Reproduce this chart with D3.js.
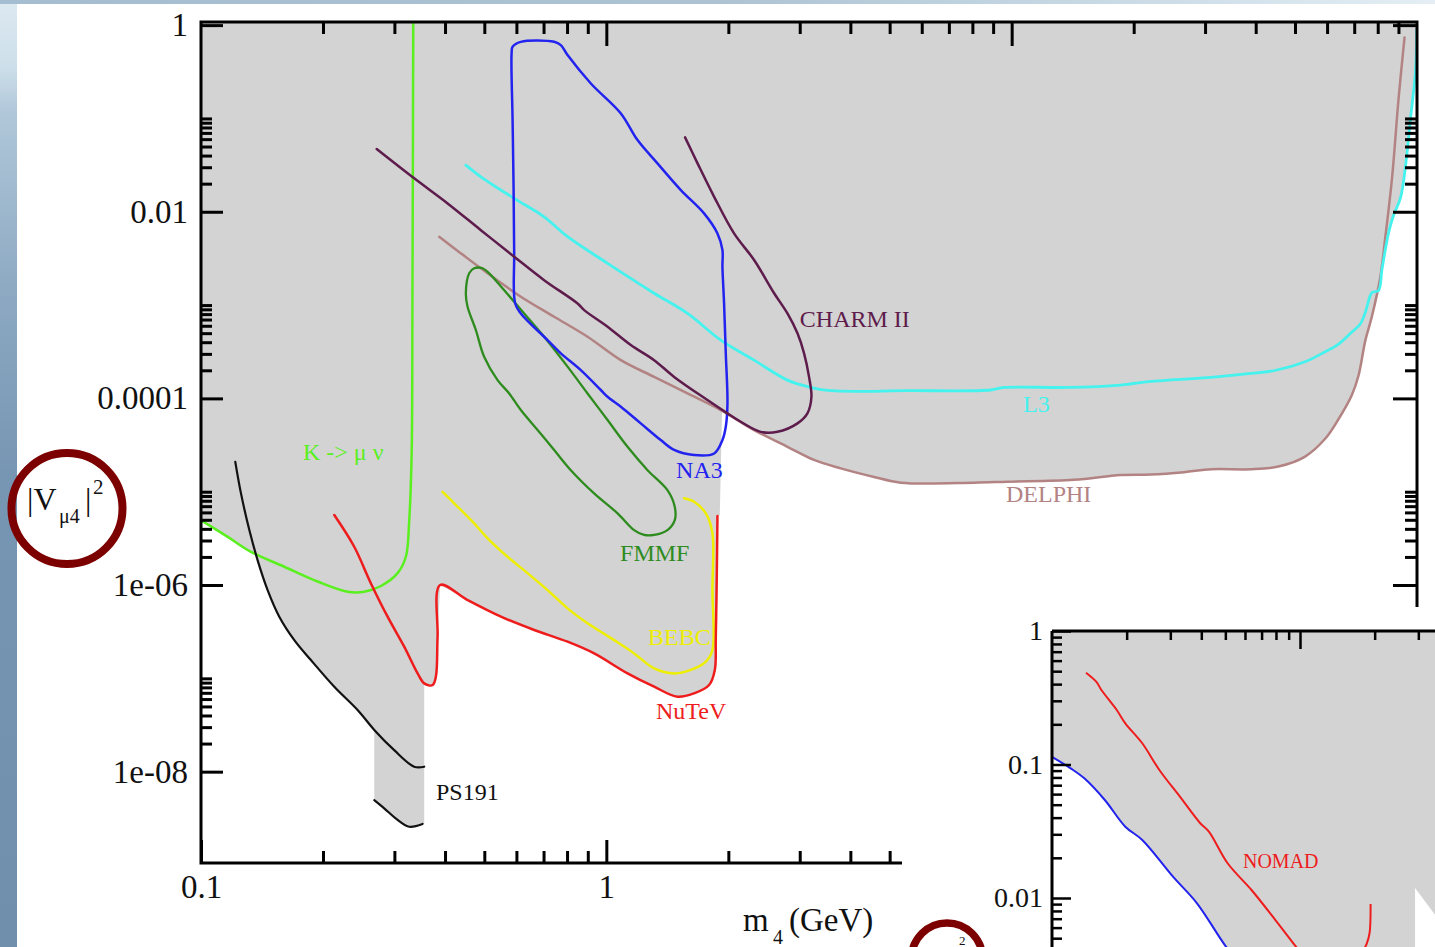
<!DOCTYPE html>
<html>
<head>
<meta charset="utf-8">
<title>Bounds on |V_mu4|^2 versus m4</title>
<script src="https://cdn.jsdelivr.net/npm/d3@7/dist/d3.min.js"></script>
<style>
  html, body { margin: 0; padding: 0; background: #ffffff; overflow: hidden; }
  svg { display: block; }
</style>
</head>
<body>
<svg id="chart" width="1435" height="947"></svg>
<script>
// ---------- Main panel: [m4 (GeV), |V_mu4|^2] ----------
const kMuNu = [[0.1,4.95e-6],[0.1164,3.28e-6],[0.1328,2.27e-6],[0.1605,1.57e-6],[0.194,1.09e-6],[0.23,8.48e-7],
  [0.2528,8.48e-7],[0.2779,9.76e-7],[0.3055,1.34e-6],[0.3202,2.01e-6],[0.3264,4.95e-6],[0.3309,2.57e-5],
  [0.3324,1.13e-3],[0.3339,1.08]];

const ps191Upper = [[0.1215,2.09e-5],[0.1255,9.59e-6],[0.1316,3.88e-6],[0.1379,1.85e-6],[0.146,8.83e-7],
  [0.156,4.58e-7],[0.1699,2.57e-7],[0.1867,1.57e-7],[0.2132,8.13e-8],[0.2434,4.58e-8],[0.2676,2.8e-8],
  [0.2997,1.7e-8],[0.3357,1.13e-8],[0.3554,1.13e-8]];
const ps191Lower = [[0.2676,4.96e-9],[0.2831,4.05e-9],[0.3055,3.04e-9],[0.3264,2.57e-9],[0.3521,2.75e-9]];

const nutev = [[0.2132,5.62e-6],[0.2388,2.57e-6],[0.2626,1.04e-6],[0.2886,4.58e-7],[0.3172,2.19e-7],
  [0.3423,1.13e-7],[0.3554,8.83e-8],[0.3727,8.48e-8],[0.3797,1.04e-7],[0.3834,2.79e-7],[0.389,1.0e-6],
  [0.4546,6.9e-7],[0.5495,4.58e-7],[0.6637,3.3e-7],[0.8023,2.47e-7],[0.9331,1.85e-7],[1.128,1.13e-7],
  [1.312,8.13e-8],[1.498,6.35e-8],[1.646,6.9e-8],[1.793,8.48e-8],[1.852,1.23e-7],[1.862,2.57e-7],
  [1.873,1.34e-6],[1.880,5.48e-6]];

const bebc = [[0.3945,9.98e-6],[0.4214,7.51e-6],[0.472,4.58e-6],[0.5094,3.17e-6],[0.5706,2.01e-6],
  [0.6393,1.34e-6],[0.7161,8.83e-7],[0.8023,5.62e-7],[0.8988,3.89e-7],[1.045,2.57e-7],[1.171,1.85e-7],
  [1.312,1.28e-7],[1.47,1.13e-7],[1.616,1.23e-7],[1.76,1.51e-7],[1.827,2.01e-7],[1.827,8.83e-7],
  [1.827,3.58e-6],[1.76,5.86e-6],[1.646,7.8e-6],[1.555,8.49e-6]];

const fmmf = [[0.472,2.48e-3],[0.495,2.48e-3],[0.514,2.19e-3],[0.56,1.44e-3],[0.627,8.14e-4],[0.7023,4.58e-4],
  [0.8023,2.19e-4],[0.8988,1.13e-4],[1.007,5.86e-5],[1.128,3.03e-5],[1.264,1.7e-5],[1.415,1.04e-5],
  [1.475,6.9e-6],[1.475,4.96e-6],[1.415,3.88e-6],[1.312,3.44e-6],[1.239,3.44e-6],[1.171,3.88e-6],
  [1.066,5.86e-6],[0.933,9.59e-6],[0.8174,1.7e-5],[0.7435,2.8e-5],[0.6767,4.58e-5],[0.6153,7.5e-5],
  [0.5759,1.13e-4],[0.5391,1.57e-4],[0.4995,2.79e-4],[0.4766,5.4e-4],[0.4546,9.59e-4],[0.4502,1.34e-3],
  [0.4588,2.19e-3]];

const na3 = [[0.5838,0.498],[0.5871,0.586],[0.6153,0.662],[0.7435,0.662],[0.7722,0.611],[0.8023,0.477],
  [0.9158,0.237],[1.086,0.1132],[1.194,0.0586],[1.337,0.033],[1.527,0.01707],[1.742,9.61e-3],[1.88,5.86e-3],
  [1.934,3.89e-3],[1.934,2.57e-3],[1.952,1.04e-3],[1.971,3.04e-4],[1.99,8.84e-5],[1.971,4.96e-5],
  [1.934,3.58e-5],[1.845,2.57e-5],[1.646,2.47e-5],[1.47,2.8e-5],[1.362,3.58e-5],[1.216,5.4e-5],
  [1.086,8.13e-5],[1.007,1.04e-4],[0.9692,1.23e-4],[0.865,2.01e-4],[0.7722,3.04e-4],[0.7161,4.21e-4],
  [0.6153,8.14e-4],[0.5958,1.04e-3],[0.5924,3.58e-3],[0.5904,0.0185],[0.5871,0.096]];

const charm2 = [[0.2713,0.047],[0.3357,0.0228],[0.4059,0.01229],[0.4903,6.35e-3],[0.5924,3.3e-3],
  [0.7023,1.85e-3],[0.8492,1.04e-3],[0.8817,8.83e-4],[1.007,5.86e-4],[1.149,3.73e-4],[1.312,2.57e-4],
  [1.47,1.7e-4],[1.776,9.6e-5],[1.99,6.91e-5],[2.146,5.62e-5],[2.404,4.38e-5],[2.644,4.38e-5],[2.962,5.4e-5],
  [3.134,6.91e-5],[3.206,1.04e-4],[3.163,1.7e-4],[3.075,3.04e-4],[2.962,4.98e-4],[2.798,8.14e-4],
  [2.594,1.34e-3],[2.315,3.04e-3],[2.066,5.86e-3],[1.845,0.01446],[1.679,0.033],[1.564,0.0627]];

const l3 = [[0.4502,0.0316],[0.4903,0.0237],[0.5924,0.0139],[0.7023,8.83e-3],[0.8023,5.4e-3],[1.007,2.8e-3],
  [1.312,1.34e-3],[1.586,8.14e-4],[1.916,4.21e-4],[2.315,2.57e-4],[2.798,1.57e-4],[3.134,1.34e-4],
  [3.578,1.21e-4],[5.532,1.21e-4],[8.876,1.23e-4],[9.573,1.31e-4],[13.72,1.31e-4],[18.57,1.39e-4],
  [22.02,1.52e-4],[30.43,1.67e-4],[38.3,1.84e-4],[44.6,1.99e-4],[52.95,2.47e-4],[59.34,3.16e-4],
  [64.03,3.82e-4],[69.07,5.14e-4],[72.44,6.26e-4],[74.6,8.41e-4],[77.45,1.36e-3],[80.35,1.43e-3],
  [81.98,2.44e-3],[85.05,5.9e-3],[87.5,9.12e-3],[91.07,0.01414],[93.68,0.0309],[96.38,0.0993],
  [99.16,0.321],[99.9,0.884]];

const delphi = [[0.387,5.4e-3],[0.4377,3.58e-3],[0.5094,2.19e-3],[0.6153,1.23e-3],[0.7435,7.5e-4],
  [0.8988,4.58e-4],[1.086,2.57e-4],[1.312,1.7e-4],[1.586,1.13e-4],[1.916,7.5e-5],[2.315,4.58e-5],
  [2.798,3.03e-5],[3.253,2.19e-5],[3.788,1.78e-5],[4.576,1.44e-5],[5.325,1.25e-5],[8.072,1.25e-5],
  [9.759,1.28e-5],[14.24,1.34e-5],[18.57,1.51e-5],[22.02,1.53e-5],[26.64,1.62e-5],[31.08,1.74e-5],
  [39.07,1.74e-5],[45.48,1.86e-5],[52.95,2.38e-5],[59.34,3.69e-5],[64.03,6.0e-5],[69.07,1.09e-4],
  [71.74,1.76e-4],[74.6,4.21e-4],[77.45,7.63e-4],[81.2,2.01e-3],[83.53,5.35e-3],[86.78,0.023],
  [90.05,0.162],[93.15,0.735]];

// corner points where the shaded region leaves one curve for another
const regionTop = [[0.1,1.08],[99.95,1.08]];
const l3DelphiCross = [[79.9,1.42e-3]];
const na3Edge = [[1.93,7.4e-5],[1.905,5.6e-6]];
const nutevDrop = [[0.3554,2.75e-9]];
const ps191KaonCross = [[0.137,2.15e-6]];

// ticks
const massMajorTop = [1, 10];
const massMinorTop = [0.2,0.3,0.4,0.5,0.6,0.7,0.8,0.9,2,3,4,5,6,7,8,9,20,30,40,50,60,70,80,90];
const massMajorBottom = [0.1, 1];
const massLabelsBottom = ['0.1', '1'];
const massMinorBottom = [0.2,0.3,0.4,0.5,0.6,0.7,0.8,0.9,2,3,4,5,6,7,8,9];
const mixMajor = [1, 1e-2, 1e-4, 1e-6, 1e-8];
const mixLabels = ['1', '0.01', '0.0001', '1e-06', '1e-08'];
const mixMinor = [0.02,0.03,0.04,0.05,0.06,0.07,0.08,0.09,0.1,
  2e-4,3e-4,4e-4,5e-4,6e-4,7e-4,8e-4,9e-4,1e-3,
  2e-6,3e-6,4e-6,5e-6,6e-6,7e-6,8e-6,9e-6,1e-5,
  2e-8,3e-8,4e-8,5e-8,6e-8,7e-8,8e-8,9e-8,1e-7];

// ---------- Inset panel ----------
const insetLower = [[10,0.114],[11.89,0.0936],[13.5,0.0788],[16.33,0.0542],[19.75,0.0342],[23.12,0.0272],
  [30.75,0.01444],[38.43,9.13e-3],[50.3,4.32e-3],[60,2.89e-3],[66.2,2.0e-3]];
const nomad = [[13.71,0.487],[15.08,0.417],[15.82,0.3615],[18.24,0.256],[19.75,0.2035],[23.12,0.1442],
  [27.1,0.091],[32.8,0.0574],[39.6,0.0363],[42.92,0.0314],[51.07,0.0182],[63.75,0.01148],[79.6,6.84e-3],
  [96.3,4.32e-3],[109.7,3.15e-3]];
const nomadHigh = [[192.6,9.02e-3],[190.8,5.47e-3],[185.8,4.55e-3],[179.5,4.01e-3],[166.7,3.15e-3]];
const insetCorner = [[10,1],[500,1],[500,3.06e-3],[291,0.0119],[291,2e-3]];
const insetMassMajor = [100];
const insetMassMinor = [20,30,40,50,60,70,80,90,200,300];
const insetMixMajor = [1, 0.1, 0.01];
const insetMixLabels = ['1', '0.1', '0.01'];
const insetMixMinor = [0.9,0.8,0.7,0.6,0.5,0.4,0.3,0.2,0.09,0.08,0.07,0.06,0.05,0.04,0.03,0.02,
  0.009,0.008,0.007,0.006,0.005,0.004,0.003,0.002];

// ---------- drawing ----------
const FONT = '"Liberation Serif", "Times New Roman", Times, serif';
const GRAY = '#d3d3d3';
const C = {
  kaon: '#5aef1e', ps191: '#111111', nutev: '#ee1c1c', bebc: '#eeee00', fmmf: '#2e8b1e',
  na3: '#2323f0', charm: '#5e1c4c', l3: '#44f2ee', delphi: '#b38383'
};

const svg = d3.select('#chart');
const defs = svg.append('defs');

// slide backdrop
const sideGrad = defs.append('linearGradient').attr('id', 'sideGrad').attr('x1', 0).attr('y1', 0).attr('x2', 0).attr('y2', 1);
[[0, '#dde9f1'], [0.07, '#cddfea'], [0.12, '#b0c7d9'], [0.3, '#8eaac3'], [0.5, '#7796b3'], [1, '#6f8fad']]
  .forEach(([o, c]) => sideGrad.append('stop').attr('offset', o).attr('stop-color', c));
const topGrad = defs.append('linearGradient').attr('id', 'topGrad').attr('x1', 0).attr('y1', 0).attr('x2', 1).attr('y2', 0);
[[0, '#a4bdd0'], [0.5, '#adc3d3'], [0.8, '#cbdce7'], [1, '#e4eef4']]
  .forEach(([o, c]) => topGrad.append('stop').attr('offset', o).attr('stop-color', c));
svg.append('rect').attr('width', 1435).attr('height', 947).attr('fill', '#ffffff');
svg.append('rect').attr('x', 0).attr('y', 0).attr('width', 17).attr('height', 947).attr('fill', 'url(#sideGrad)');
svg.append('rect').attr('x', 0).attr('y', 0).attr('width', 1435).attr('height', 4).attr('fill', 'url(#topGrad)');

// main scales
const x = d3.scaleLog().domain([0.1, 100]).range([201, 1417]);
const y = d3.scaleLog().domain([1.08, 1.05e-9]).range([22, 863]);
const box = { l: x.range()[0], r: x.range()[1], t: y.range()[0], b: y.range()[1] };

defs.append('clipPath').attr('id', 'plotClip').append('rect')
  .attr('x', box.l).attr('y', box.t).attr('width', box.r - box.l).attr('height', box.b - box.t);

const main = svg.append('g');
const plot = main.append('g').attr('clip-path', 'url(#plotClip)');

const smooth = d3.line().x(d => x(d[0])).y(d => y(d[1])).curve(d3.curveCatmullRom.alpha(0.5));
const smoothClosed = d3.line().x(d => x(d[0])).y(d => y(d[1])).curve(d3.curveCatmullRomClosed.alpha(0.5));
const straight = d3.line().x(d => x(d[0])).y(d => y(d[1]));

// excluded (shaded) region, stitched from the bounding curves
const excludedRegion = [].concat(
  regionTop,
  l3.slice(29).reverse(),
  l3DelphiCross,
  delphi.slice(10, 32).reverse(),
  na3Edge,
  nutev.slice(6).reverse(),
  nutevDrop,
  ps191Lower.slice().reverse(),
  ps191Upper.slice(3, 11).reverse(),
  ps191KaonCross,
  kMuNu.slice(0, 3).reverse()
);
plot.append('path').attr('d', straight(excludedRegion) + 'Z').attr('fill', GRAY).attr('stroke', 'none');

const curves = [
  { pts: delphi, color: C.delphi, closed: false, w: 2.5 },
  { pts: l3, color: C.l3, closed: false, w: 2.8 },
  { pts: kMuNu, color: C.kaon, closed: false, w: 2.5 },
  { pts: ps191Upper, color: C.ps191, closed: false, w: 2.2 },
  { pts: ps191Lower, color: C.ps191, closed: false, w: 2.2 },
  { pts: bebc, color: C.bebc, closed: false, w: 2.5 },
  { pts: nutev, color: C.nutev, closed: false, w: 2.5 },
  { pts: fmmf, color: C.fmmf, closed: true, w: 2.3 },
  { pts: na3, color: C.na3, closed: true, w: 2.5 },
  { pts: charm2, color: C.charm, closed: false, w: 2.5 }
];
plot.selectAll('path.curve').data(curves).join('path').attr('class', 'curve')
  .attr('d', d => d.closed ? smoothClosed(d.pts) : smooth(d.pts))
  .attr('fill', 'none').attr('stroke', d => d.color).attr('stroke-width', d => d.w)
  .attr('stroke-linejoin', 'round').attr('stroke-linecap', 'round');

const curveLabels = [
  { text: 'K -> \u03bc \u03bd', m: 0.1785, v: 2.18e-5, color: C.kaon },
  { text: 'PS191', m: 0.38, v: 4.97e-9, color: C.ps191 },
  { text: 'NuTeV', m: 1.326, v: 3.66e-8, color: C.nutev },
  { text: 'BEBC', m: 1.267, v: 2.27e-7, color: C.bebc },
  { text: 'FMMF', m: 1.081, v: 1.81e-6, color: C.fmmf },
  { text: 'NA3', m: 1.486, v: 1.4e-5, color: C.na3 },
  { text: 'CHARM II', m: 3.002, v: 5.81e-4, color: C.charm },
  { text: 'L3', m: 10.67, v: 7.13e-5, color: C.l3 },
  { text: 'DELPHI', m: 9.685, v: 7.75e-6, color: C.delphi }
];
main.selectAll('text.clabel').data(curveLabels).join('text').attr('class', 'clabel')
  .attr('x', d => x(d.m)).attr('y', d => y(d.v)).text(d => d.text)
  .attr('fill', d => d.color).attr('font-family', FONT).attr('font-size', 24);

// frame
main.append('rect').attr('x', box.l).attr('y', box.t).attr('width', box.r - box.l).attr('height', box.b - box.t)
  .attr('fill', 'none').attr('stroke', '#000').attr('stroke-width', 3);

function tickGroup(parent, axis, transform, values, size, pad, labels, fontSize, sw) {
  const g = parent.append('g').attr('transform', transform)
    .call(axis.tickValues(values).tickSizeInner(size).tickSizeOuter(0).tickPadding(pad)
      .tickFormat((d, i) => labels ? labels[i] : ''));
  g.select('.domain').remove();
  g.attr('font-family', FONT).attr('font-size', fontSize).attr('color', '#111');
  g.selectAll('line').attr('stroke', '#000').attr('stroke-width', sw);
  return g;
}
// left
tickGroup(main, d3.axisLeft(y), `translate(${box.l},0)`, mixMinor, -11, 13, null, 33, 3);
tickGroup(main, d3.axisLeft(y), `translate(${box.l},0)`, mixMajor, -22, 13, mixLabels, 33, 3);
// right
tickGroup(main, d3.axisRight(y), `translate(${box.r},0)`, mixMinor, -12, 0, null, 33, 3);
tickGroup(main, d3.axisRight(y), `translate(${box.r},0)`, mixMajor, -24, 0, null, 33, 3);
// top
tickGroup(main, d3.axisTop(x), `translate(0,${box.t})`, massMinorTop, -12, 0, null, 33, 3);
tickGroup(main, d3.axisTop(x), `translate(0,${box.t})`, massMajorTop, -24, 0, null, 33, 3);
// bottom
tickGroup(main, d3.axisBottom(x), `translate(0,${box.b})`, massMinorBottom, -12, 12, null, 33, 3);
tickGroup(main, d3.axisBottom(x), `translate(0,${box.b})`, massMajorBottom, -23, 12, massLabelsBottom, 33, 3);

// axis titles
const xt = svg.append('text').attr('font-family', FONT).attr('fill', '#111');
xt.append('tspan').attr('x', 743).attr('y', 931).attr('font-size', 33).text('m');
xt.append('tspan').attr('x', 773).attr('y', 944).attr('font-size', 20).text('4');
xt.append('tspan').attr('x', 789).attr('y', 931).attr('font-size', 33).text('(GeV)');

const yt = svg.append('text').attr('font-family', FONT).attr('fill', '#111');
yt.append('tspan').attr('x', 27).attr('y', 510).attr('font-size', 32).text('|V');
yt.append('tspan').attr('x', 59).attr('y', 523).attr('font-size', 20).text('\u03bc4');
yt.append('tspan').attr('x', 85).attr('y', 510).attr('font-size', 32).text('|');
yt.append('tspan').attr('x', 93).attr('y', 494).attr('font-size', 21).text('2');

// ---------- inset panel ----------
svg.append('rect').attr('x', 902).attr('y', 607).attr('width', 533).attr('height', 340).attr('fill', '#ffffff');

const xi = d3.scaleLog().domain([10, 100]).range([1052, 1300]);
const yi = d3.scaleLog().domain([1, 0.01]).range([631, 898]);
const inset = svg.append('g');
const iLine = d3.line().x(d => xi(d[0])).y(d => yi(d[1]));
const iSmooth = d3.line().x(d => xi(d[0])).y(d => yi(d[1])).curve(d3.curveCatmullRom.alpha(0.5));

const insetRegion = insetCorner.concat(insetLower.slice().reverse());
inset.append('path').attr('d', iLine(insetRegion) + 'Z').attr('fill', GRAY);
inset.append('path').attr('d', iSmooth(insetLower)).attr('fill', 'none').attr('stroke', '#2222ee').attr('stroke-width', 2);
inset.append('path').attr('d', iSmooth(nomad)).attr('fill', 'none').attr('stroke', '#ee1c1c').attr('stroke-width', 2);
inset.append('path').attr('d', iSmooth(nomadHigh)).attr('fill', 'none').attr('stroke', '#ee1c1c').attr('stroke-width', 2);
inset.append('text').attr('x', xi(58.9)).attr('y', yi(0.0168)).attr('font-family', FONT).attr('font-size', 20)
  .attr('fill', '#ee1c1c').text('NOMAD');

inset.append('line').attr('x1', 1052).attr('x2', 1440).attr('y1', 631).attr('y2', 631).attr('stroke', '#000').attr('stroke-width', 3);
inset.append('line').attr('x1', 1052).attr('x2', 1052).attr('y1', 631).attr('y2', 950).attr('stroke', '#000').attr('stroke-width', 3);
tickGroup(inset, d3.axisLeft(yi), 'translate(1052,0)', insetMixMinor, -10, 9, null, 28, 2.5);
tickGroup(inset, d3.axisLeft(yi), 'translate(1052,0)', insetMixMajor, -19, 9, insetMixLabels, 28, 2.5);
tickGroup(inset, d3.axisTop(xi), 'translate(0,631)', insetMassMinor, -9, 0, null, 28, 2.5);
tickGroup(inset, d3.axisTop(xi), 'translate(0,631)', insetMassMajor, -18, 0, null, 28, 2.5);

// highlight rings around the mixing-parameter symbols
svg.append('circle').attr('cx', 67).attr('cy', 508.5).attr('r', 55.5)
  .attr('fill', 'none').attr('stroke', '#7d0000').attr('stroke-width', 8);
svg.append('circle').attr('cx', 947).attr('cy', 958.5).attr('r', 35.5)
  .attr('fill', 'none').attr('stroke', '#7d0000').attr('stroke-width', 7.5);
svg.append('text').attr('x', 959).attr('y', 945).attr('font-family', FONT).attr('font-size', 13)
  .attr('fill', '#111').text('2');
</script>
</body>
</html>
